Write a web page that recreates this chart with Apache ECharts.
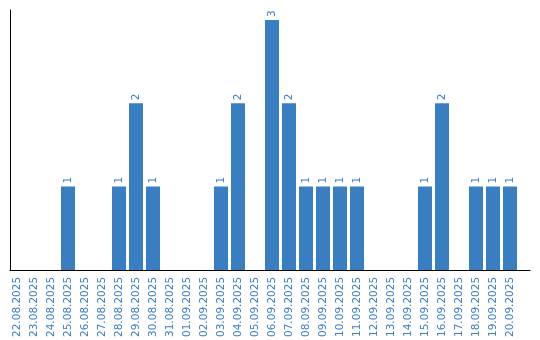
<!DOCTYPE html>
<html><head><meta charset="utf-8">
<script src="https://cdn.jsdelivr.net/npm/echarts@6/dist/echarts.min.js"></script>
<style>html,body{margin:0;padding:0;background:#fff}#c{width:540px;height:340px}</style>
</head><body><div id="c"></div>
<script>
const categories = ["22.08.2025","23.08.2025","24.08.2025","25.08.2025","26.08.2025","27.08.2025","28.08.2025","29.08.2025","30.08.2025","31.08.2025","01.09.2025","02.09.2025","03.09.2025","04.09.2025","05.09.2025","06.09.2025","07.09.2025","08.09.2025","09.09.2025","10.09.2025","11.09.2025","12.09.2025","13.09.2025","14.09.2025","15.09.2025","16.09.2025","17.09.2025","18.09.2025","19.09.2025","20.09.2025"];
const counts = [0,0,0,1,0,0,1,2,1,0,0,0,1,2,0,3,2,1,1,1,1,0,0,0,1,2,0,1,1,1];
const blue = '#3a7ec2';
const chart = echarts.init(document.getElementById('c'), null, {renderer:'canvas'});
chart.setOption({
  animation:false,
  grid:[
    {left:8.5, right:21.5, top:10, bottom:70},
    {left:10, right:10, top:10, bottom:70}
  ],
  xAxis:[
    {type:'category', gridIndex:0, data:categories,
     axisLine:{show:false}, axisTick:{show:false},
     axisLabel:{rotate:90, interval:0, color:blue, fontSize:10.5, fontFamily:'DejaVu Sans', margin:7}},
    {type:'value', gridIndex:1, min:0, max:1, axisLabel:{show:false}, axisTick:{show:false}, splitLine:{show:false},
     axisLine:{show:true, lineStyle:{color:'#000', width:1}}}
  ],
  yAxis:[
    {type:'value', gridIndex:0, min:0, max:3.12, axisLabel:{show:false}, axisTick:{show:false}, splitLine:{show:false}, axisLine:{show:false}},
    {type:'value', gridIndex:1, min:0, max:1, axisLabel:{show:false}, axisTick:{show:false}, splitLine:{show:false},
     axisLine:{show:true, lineStyle:{color:'#000', width:1}}}
  ],
  series:[{
    type:'bar', xAxisIndex:0, yAxisIndex:0, data:counts.map(v=>v===0?null:v),
    barWidth:14, itemStyle:{color:blue},
    label:{show:true, position:'top', rotate:90, align:'left', verticalAlign:'middle', distance:3, color:blue, fontSize:10.5, fontFamily:'DejaVu Sans'}
  }]
});
</script></body></html>
